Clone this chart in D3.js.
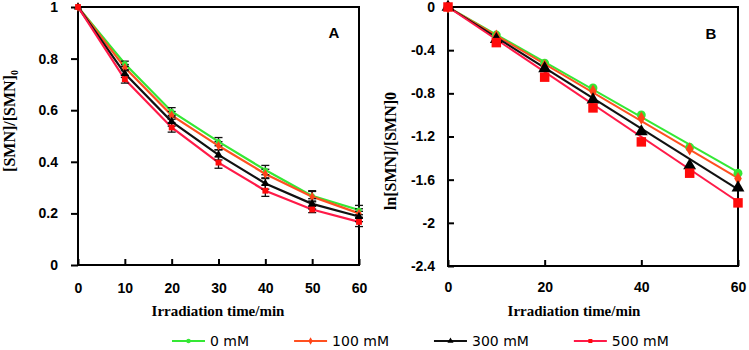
<!DOCTYPE html>
<html><head><meta charset="utf-8">
<script src="https://cdn.jsdelivr.net/npm/d3@7/dist/d3.min.js"></script>
<style>
html,body{margin:0;padding:0;background:#fff;}
svg{display:block;}
.tick text{font-family:"Liberation Sans",Arial,sans-serif;font-weight:bold;font-size:14px;fill:#000;}
</style></head>
<body><svg id="c" width="749" height="350"></svg>
<script>
// ---- data ----
const times = [0, 10, 20, 30, 40, 50, 60];
const seriesNames = ["0 mM", "100 mM", "300 mM", "500 mM"];
// Panel A: [SMN]/[SMN]0
const ratio0   = [1, 0.780, 0.595, 0.478, 0.368, 0.268, 0.213];
const ratio100 = [1, 0.765, 0.580, 0.462, 0.353, 0.265, 0.200];
const ratio300 = [1, 0.742, 0.556, 0.427, 0.316, 0.237, 0.188];
const ratio500 = [1, 0.720, 0.533, 0.397, 0.288, 0.215, 0.167];
// error bars (±)
const err0   = [0, 0.010, 0.015, 0.016, 0.018, 0.020, 0.018];
const err100 = [0, 0.012, 0.015, 0.016, 0.018, 0.020, 0.018];
const err300 = [0, 0.015, 0.018, 0.020, 0.022, 0.020, 0.020];
const err500 = [0, 0.015, 0.018, 0.022, 0.022, 0.012, 0.018];
// Panel B: ln([SMN]/[SMN]0)
const ln0   = [0, -0.26, -0.52, -0.75, -1.00, -1.30, -1.54];
const ln100 = [0, -0.27, -0.545, -0.78, -1.03, -1.315, -1.59];
const ln300 = [0, -0.30, -0.57, -0.86, -1.155, -1.47, -1.675];
const ln500 = [0, -0.33, -0.65, -0.935, -1.25, -1.54, -1.815];
// fitted lines (through origin): value at t = 60
const fitAt60 = [-1.53, -1.585, -1.69, -1.805];
const xTicksA = [0, 10, 20, 30, 40, 50, 60];
const xTicksB = [0, 20, 40, 60];
const yTicksA = [0, 0.2, 0.4, 0.6, 0.8, 1];
const yTicksB = [-2.4, -2, -1.6, -1.2, -0.8, -0.4, 0];

// ---- styles ----
const lineColors   = ["#35e835", "#ff5020", "#111111", "#ff1a48"];
const markerColors = ["#35e835", "#ff4418", "#000000", "#ff0a0a"];
const markerTypes  = [d3.symbolCircle, d3.symbolDiamond, d3.symbolTriangle, d3.symbolSquare];

const svg = d3.select("#c");
const ratios = [ratio0, ratio100, ratio300, ratio500];
const errs = [err0, err100, err300, err500];
const lns = [ln0, ln100, ln300, ln500];

function frame(g, x0, x1, y0, y1) {
  g.append("rect").attr("x", x0).attr("y", y0).attr("width", x1 - x0).attr("height", y1 - y0)
    .attr("fill", "none").attr("stroke", "#000").attr("stroke-width", 2);
}

// ---- Panel A ----
const xA = d3.scaleLinear().domain([0, 60]).range([78, 359]);
const yA = d3.scaleLinear().domain([0, 1]).range([265, 7]);
const gA = svg.append("g");

gA.append("g").attr("transform", "translate(0,265)")
  .call(d3.axisBottom(xA).tickValues(xTicksA).tickSizeInner(-6).tickSizeOuter(0).tickPadding(18))
  .call(g => { g.select(".domain").remove(); g.selectAll("line").attr("stroke", "#000").attr("stroke-width", 2); });
gA.append("g").attr("transform", "translate(78,0)")
  .call(d3.axisLeft(yA).tickValues(yTicksA).tickFormat(d => String(+d.toFixed(1))).tickSizeInner(7).tickSizeOuter(0).tickPadding(13))
  .call(g => { g.select(".domain").remove(); g.selectAll("line").attr("stroke", "#000").attr("stroke-width", 2); });
frame(gA, 78, 359, 7, 265);

const lineA = d3.line().x((d, i) => xA(times[i])).y(d => yA(d));
ratios.forEach((s, k) => {
  gA.append("path").attr("d", lineA(s)).attr("fill", "none")
    .attr("stroke", lineColors[k]).attr("stroke-width", 2.2);
});
// error bars
ratios.forEach((s, k) => {
  s.forEach((v, i) => {
    const e = errs[k][i];
    if (!e) return;
    const cx = xA(times[i]);
    const g = gA.append("g").attr("stroke", "#111").attr("stroke-width", 1.3);
    g.append("line").attr("x1", cx).attr("x2", cx).attr("y1", yA(v + e)).attr("y2", yA(v - e));
    [v + e, v - e].forEach(b => g.append("line").attr("x1", cx - 4).attr("x2", cx + 4).attr("y1", yA(b)).attr("y2", yA(b)));
  });
});
const symSizeA = [22, 26, 30, 34];
ratios.forEach((s, k) => {
  gA.selectAll(null).data(s).enter().append("path")
    .attr("d", d3.symbol().type(markerTypes[k]).size(symSizeA[k]))
    .attr("transform", (d, i) => `translate(${xA(times[i])},${yA(d)})`)
    .attr("fill", markerColors[k]);
});
gA.append("text").attr("x", 334).attr("y", 38).attr("text-anchor", "middle")
  .attr("font-family", "Liberation Sans, Arial, sans-serif").attr("font-weight", "bold").attr("font-size", 15).text("A");

// axis titles A
gA.append("text").attr("x", 218).attr("y", 316).attr("text-anchor", "middle")
  .attr("font-family", "Liberation Serif, Times New Roman, serif").attr("font-weight", "bold").attr("font-size", 15)
  .text("Irradiation time/min");
const tA = gA.append("text").attr("transform", "translate(15,121) rotate(-90)").attr("text-anchor", "middle")
  .attr("font-family", "Liberation Serif, Times New Roman, serif").attr("font-weight", "bold").attr("font-size", 16);
tA.append("tspan").text("[SMN]/[SMN]");
tA.append("tspan").attr("font-size", 10).attr("dy", 3).text("0");

// ---- Panel B ----
const xB = d3.scaleLinear().domain([0, 60]).range([448, 738]);
const yB = d3.scaleLinear().domain([-2.4, 0]).range([266, 7]);
const gB = svg.append("g");
gB.append("g").attr("transform", "translate(0,266)")
  .call(d3.axisBottom(xB).tickValues(xTicksB).tickSizeInner(-6).tickSizeOuter(0).tickPadding(16))
  .call(g => { g.select(".domain").remove(); g.selectAll("line").attr("stroke", "#000").attr("stroke-width", 2); });
gB.append("g").attr("transform", "translate(448,0)")
  .call(d3.axisLeft(yB).tickValues(yTicksB).tickFormat(d => String(+d.toFixed(1))).tickSizeInner(-6).tickSizeOuter(0).tickPadding(13))
  .call(g => { g.select(".domain").remove(); g.selectAll("line").attr("stroke", "#000").attr("stroke-width", 2); });
frame(gB, 448, 738, 7, 266);

fitAt60.forEach((v, k) => {
  gB.append("line").attr("x1", xB(0)).attr("y1", yB(0)).attr("x2", xB(60)).attr("y2", yB(v))
    .attr("stroke", lineColors[k]).attr("stroke-width", 2);
});
const symSizeB = [62, 50, 72, 90];
lns.forEach((s, k) => {
  gB.selectAll(null).data(s).enter().append("path")
    .attr("d", d3.symbol().type(markerTypes[k]).size(symSizeB[k]))
    .attr("transform", (d, i) => `translate(${xB(times[i])},${yB(d)})`)
    .attr("fill", markerColors[k]);
});
gB.append("text").attr("x", 711).attr("y", 39).attr("text-anchor", "middle")
  .attr("font-family", "Liberation Sans, Arial, sans-serif").attr("font-weight", "bold").attr("font-size", 15).text("B");
gB.append("text").attr("x", 574).attr("y", 316).attr("text-anchor", "middle")
  .attr("font-family", "Liberation Serif, Times New Roman, serif").attr("font-weight", "bold").attr("font-size", 15)
  .text("Irradiation time/min");
gB.append("text").attr("transform", "translate(396,151) rotate(-90)").attr("text-anchor", "middle")
  .attr("font-family", "Liberation Serif, Times New Roman, serif").attr("font-weight", "bold").attr("font-size", 16)
  .text("ln[SMN]/[SMN]0");

// ---- Legend ----
const lg = svg.append("g");
let lx = 172;
seriesNames.forEach((name, k) => {
  const ly = 341;
  lg.append("line").attr("x1", lx).attr("x2", lx + 33).attr("y1", ly).attr("y2", ly)
    .attr("stroke", lineColors[k]).attr("stroke-width", 2);
  lg.append("path").attr("d", d3.symbol().type(markerTypes[k]).size(16))
    .attr("transform", `translate(${lx + 16.5},${ly})`).attr("fill", markerColors[k]);
  const t = lg.append("text").attr("x", lx + 38).attr("y", ly + 5)
    .attr("font-family", "DejaVu Sans, Verdana, sans-serif").attr("font-size", 14).attr("fill", "#000").text(name);
  lx += 38 + t.node().getComputedTextLength() + 45;
});
</script></body></html>
